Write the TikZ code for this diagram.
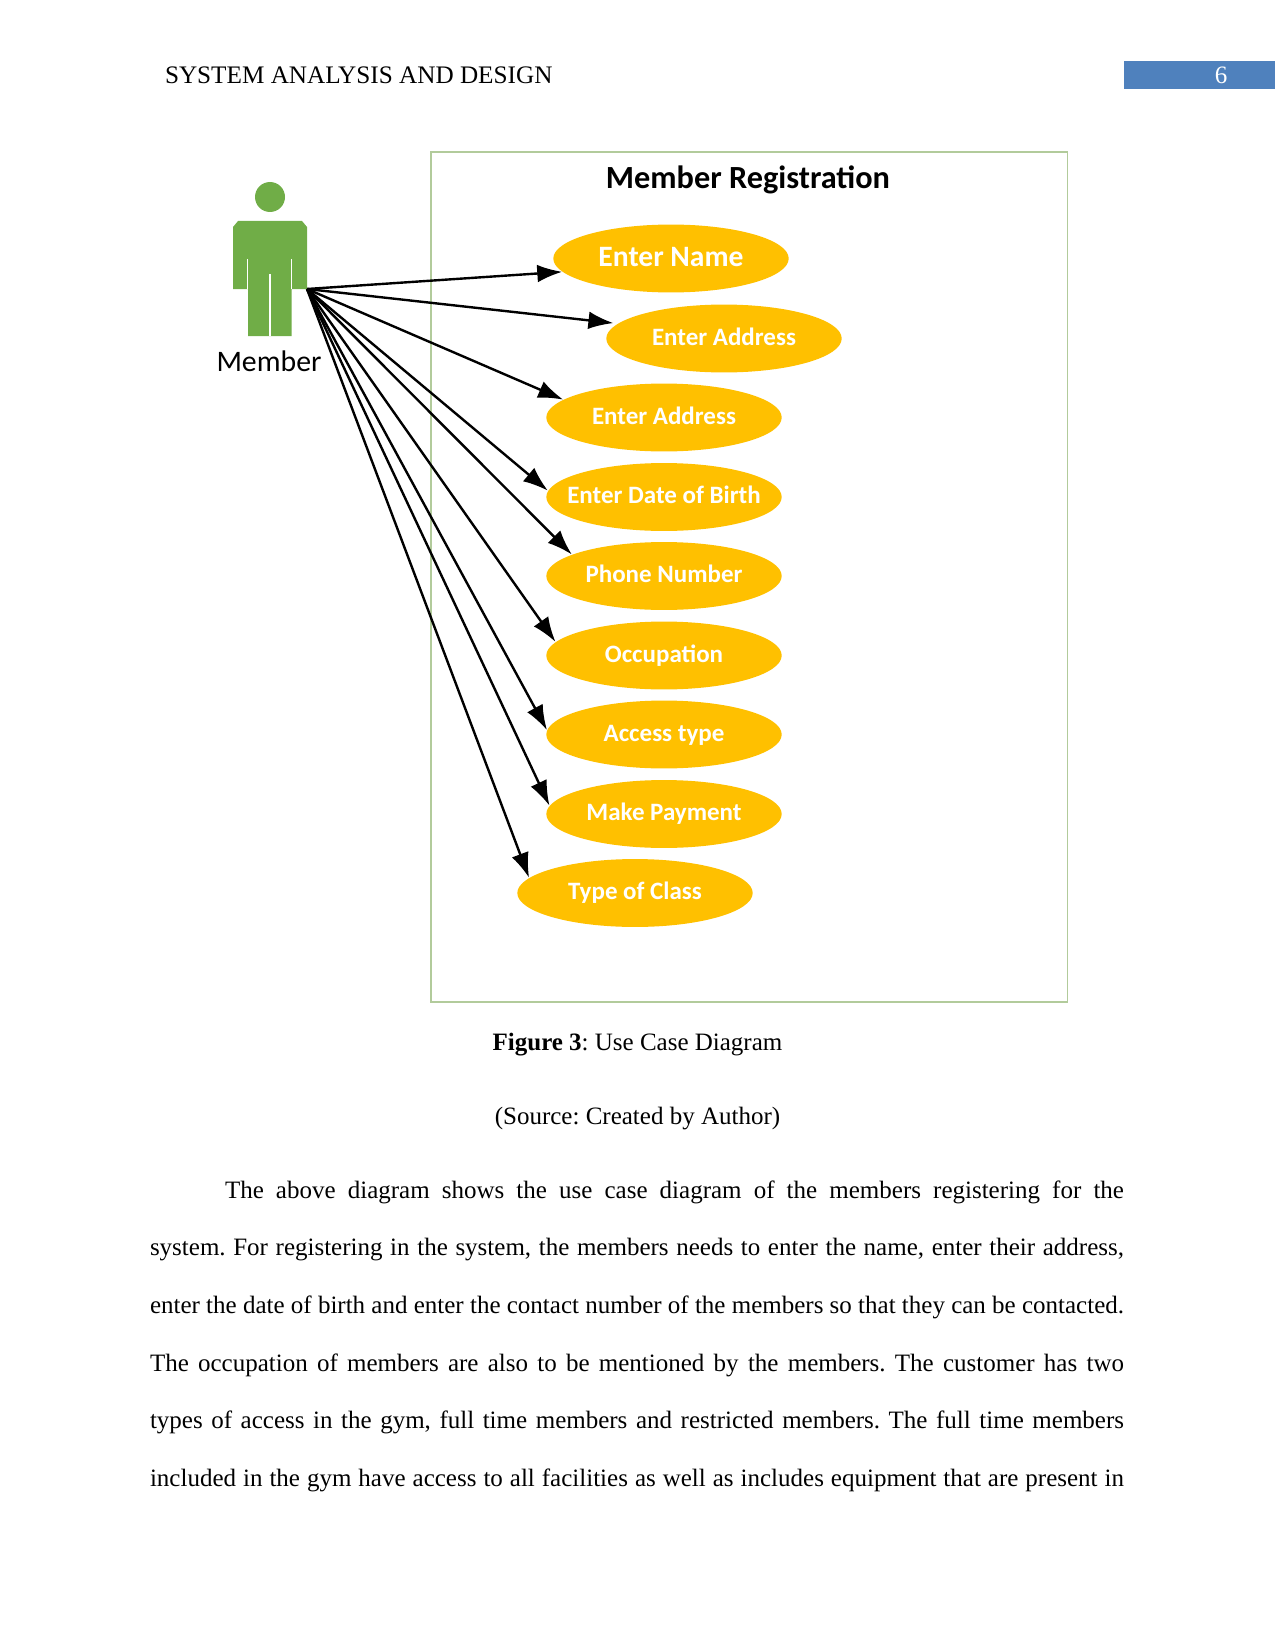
\documentclass[tikz,border=0pt]{standalone}
\usepackage{fontspec}
\setmainfont{Liberation Serif}
\newfontfamily\labelfont{Carlito}
\usetikzlibrary{shapes.geometric,arrows.meta}
\definecolor{casefill}{HTML}{FFC000}
\definecolor{actorgreen}{HTML}{70AD47}
\definecolor{framegreen}{HTML}{B2CB9B}
\definecolor{pageblue}{HTML}{4F81BD}
\tikzset{
  usecase/.style={ellipse,fill=casefill,text=white,inner sep=-8pt,outer sep=0pt,
    minimum width=113pt,minimum height=32.6pt,text height=9.5pt,text depth=3pt,
    font=\labelfont\bfseries\fontsize{12}{14}\selectfont},
  assoc/.style={-{Latex[length=12pt,width=8.5pt]},line width=1.15pt,black,shorten >=0.2pt},
  pagetext/.style={font=\fontsize{12}{14}\selectfont,inner sep=0pt,outer sep=0pt},
}
\frenchspacing
\begin{document}
\begin{tikzpicture}[x=0.48pt,y=-0.48pt]
\useasboundingbox (0,0) rectangle (1275,1651);
% running head
\node[pagetext,font=\fontsize{12.1}{14}\selectfont,anchor=base west] (head) at (165,84) {SYSTEM ANALYSIS AND DESIGN};
\fill[pageblue] (1124,61) rectangle (1275,89);
\node[pagetext,text=white,anchor=base] (pagenum) at (1221,84) {6};
% system boundary
\draw[framegreen,line width=0.5pt] (431,152) rectangle (1067.5,1002);
\node[font=\labelfont\bfseries\fontsize{15.5}{17}\selectfont] (title) at (748,179.5) {Member Registration};
% actor
\node[circle,fill=actorgreen,inner sep=0pt,minimum size=14.4pt] (head2) at (270,197) {};
\fill[actorgreen] (238,221) -- (302,221) -- (307,227) -- (307,289) -- (291.5,289) -- (291.5,336)
  -- (248,336) -- (248,289) -- (233,289) -- (233,227) -- cycle;
\draw[white,line width=0.5pt] (247.5,259) -- (247.5,289) (291.5,259) -- (291.5,289) (270,274) -- (270,336);
\node[font=\labelfont\fontsize{14.3}{16}\selectfont] (member) at (269,361) {Member};
\coordinate (hand) at (307,289);
% use cases
\node[usecase,text height=11pt,font=\labelfont\bfseries\fontsize{14.2}{16}\selectfont] (name) at (671,258.5) {Enter Name};
\node[usecase] (addr1) at (724,338.5) {Enter Address};
\node[usecase] (addr2) at (664,417.5) {Enter Address};
\node[usecase] (birth) at (664,497) {Enter Date of Birth};
\node[usecase] (phone) at (664,576) {Phone Number};
\node[usecase] (job) at (664,655.5) {Occupation};
\node[usecase] (access) at (664,734.5) {Access type};
\node[usecase] (pay) at (664,814) {Make Payment};
\node[usecase] (class) at (635,893) {Type of Class};
% associations
\draw[assoc] (hand) -- (name.187.3);
\draw[assoc,shorten >=2.3pt] (hand) -- (addr1.172.8);
\draw[assoc] (hand) -- (addr2.170.4);
\draw[assoc] (hand) -- (birth.177);
\draw[assoc] (hand) -- (phone.167.7);
\draw[assoc] (hand) -- (job.173.6);
\draw[assoc] (hand) -- (access.178.9);
\draw[assoc] (hand) -- (pay.176);
\draw[assoc] (hand) -- (class.172.8);
% caption and body text
\node[pagetext,anchor=base] (caption) at (637.5,1050) {\textbf{Figure 3}: Use Case Diagram};
\node[pagetext,anchor=base] (source) at (637.5,1124) {(Source: Created by Author)};
\node[pagetext,anchor=base west,text width=467.5pt,align=justify,
  font=\fontsize{12}{27.7}\selectfont] (body) at (150,1198) {%
\hspace*{36pt}The above diagram shows the use case diagram of the members registering for the\linebreak
system. For registering in the system, the members needs to enter the name, enter their address,\linebreak
enter the date of birth and enter the contact number of the members so that they can be contacted.\linebreak
The occupation of members are also to be mentioned by the members. The customer has two\linebreak
types of access in the gym, full time members and restricted members. The full time members\linebreak
included in the gym have access to all facilities as well as includes equipment that are present in\parfillskip=0pt\par};
\end{tikzpicture}
\end{document}
